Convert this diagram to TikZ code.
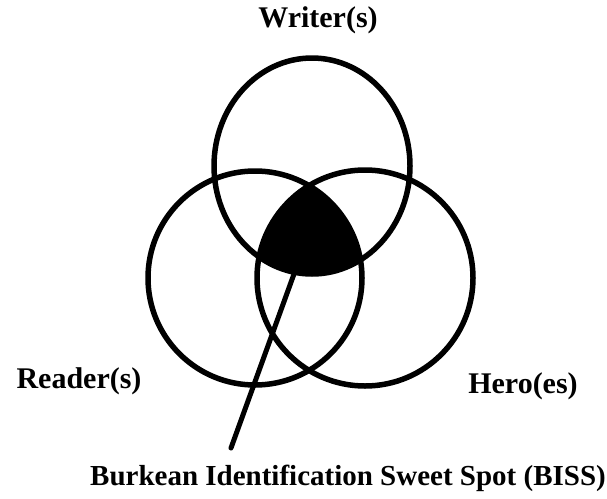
\documentclass[tikz,border=0pt]{standalone}
\usepackage{fontspec}
\setmainfont{Liberation Serif}
\begin{document}
\begin{tikzpicture}[x=1pt,y=-1pt,
  ring/.style={draw=black,line width=5.5pt},
  lbl/.style={font=\fontsize{30}{32}\selectfont\bfseries,inner sep=0pt,anchor=center},
  leader/.style={draw=black,line width=5pt,line cap=round}]
\useasboundingbox (0,0) rectangle (607,498);
% sweet spot (intersection of the three circles)
\begin{scope}
  \clip (312,166) ellipse [x radius=98, y radius=108];
  \clip (255,278) circle [radius=107];
  \fill[black] (365,278) circle [radius=108];
\end{scope}
% circles
\draw[ring] (312,166) ellipse [x radius=98, y radius=108];
\draw[ring] (255,278) circle [radius=107];
\draw[ring] (365,278) circle [radius=108];
% labels
\node[lbl] (writer) at (318,20) {Writer(s)};
\node[lbl] (reader) at (79,381) {Reader(s)};
\node[lbl] (hero) at (523,386) {Hero(es)};
\node[lbl,font=\fontsize{29}{31}\selectfont\bfseries] (biss) at (348,478) {Burkean Identification Sweet Spot (BISS)};
% leader line
\coordinate (spot) at (294,274);
\coordinate (tip) at (231,448);
\draw[leader] (spot) -- (tip);
\end{tikzpicture}
\end{document}
